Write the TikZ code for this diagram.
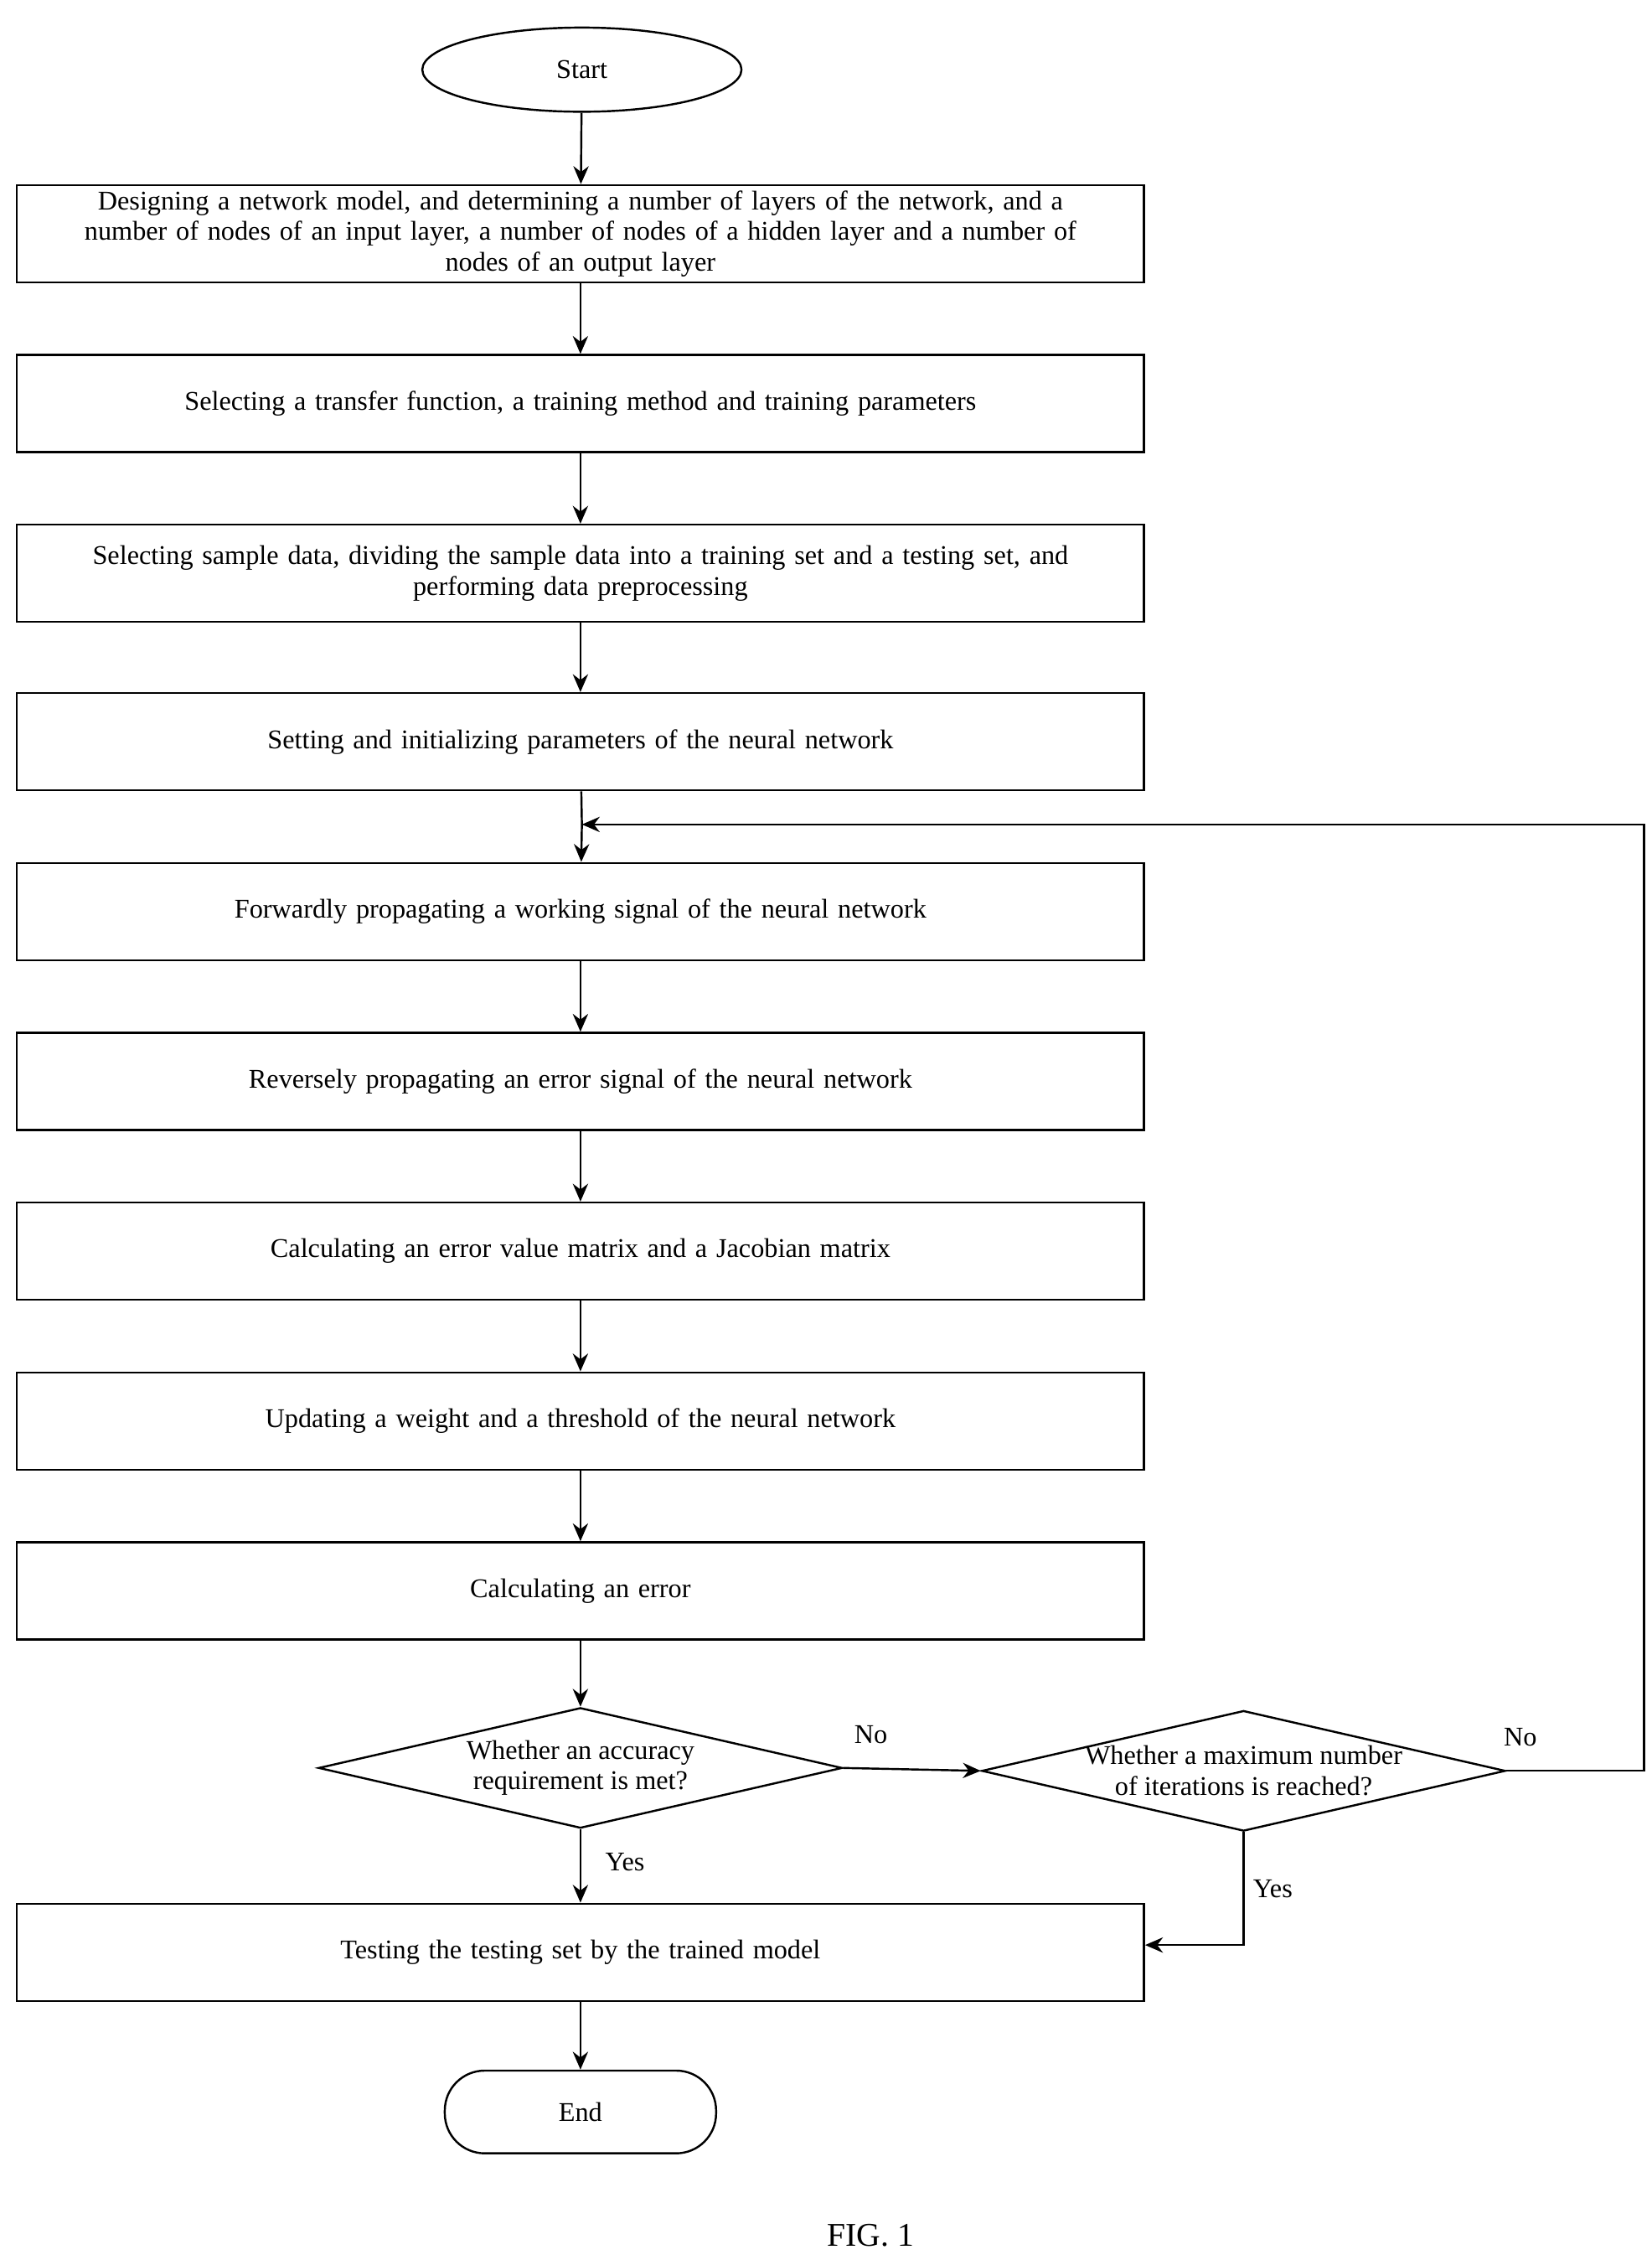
\documentclass[tikz,border=0pt]{standalone}
\usepackage{fontspec}
\setmainfont{Liberation Serif}
\usetikzlibrary{shapes.geometric,arrows.meta}
\begin{document}
\begin{tikzpicture}[x=0.02cm,y=-0.02cm,thick,
  font=\fontsize{10.6pt}{12pt}\selectfont,
  box/.style={draw, minimum width=15.54cm, minimum height=1.34cm, align=center, text width=15.4cm, inner sep=1pt},
  dec/.style={draw, diamond, aspect=4.4, minimum width=7.22cm, minimum height=1.66cm, align=center, inner xsep=-22pt, inner ysep=0pt},
  arr/.style={-{Stealth[length=7pt,width=6pt]}}]
\useasboundingbox (0,0) rectangle (1138,1557);
\tikzstyle{every path} = [line width=0.8pt]
\node[draw, ellipse, minimum width=4.4cm, minimum height=1.16cm] (start) at (401,48) {Start};
\node[box] (b1) at (400,161) {Designing a network model, and determining a number of layers of the network, and a\\number of nodes of an input layer, a number of nodes of a hidden layer and a number of\\nodes of an output layer};
\node[box] (b2) at (400,278) {Selecting a transfer function, a training method and training parameters};
\node[box] (b3) at (400,395) {Selecting sample data, dividing the sample data into a training set and a testing set, and\\performing data preprocessing};
\node[box] (b4) at (400,511) {Setting and initializing parameters of the neural network};
\node[box] (b5) at (400,628) {Forwardly propagating a working signal of the neural network};
\node[box] (b6) at (400,745) {Reversely propagating an error signal of the neural network};
\node[box] (b7) at (400,862) {Calculating an error value matrix and a Jacobian matrix};
\node[box] (b8) at (400,979) {Updating a weight and a threshold of the neural network};
\node[box] (b9) at (400,1096) {Calculating an error};
\node[dec] (d1) at (400,1218) {Whether an accuracy\\requirement is met?};
\node[dec] (d2) at (857,1220) {Whether a maximum number\\of iterations is reached?};
\node[box] (b10) at (400,1345) {Testing the testing set by the trained model};
\node[draw, rounded corners=0.55cm, minimum width=3.74cm, minimum height=1.14cm] (end) at (400,1455) {End};
\node (fig) at (600,1540) {\fontsize{13pt}{15pt}\selectfont FIG. 1};
\coordinate (loop) at (401,568);
\draw[arr] (start) -- (b1);
\draw[arr] (b1) -- (b2);
\draw[arr] (b2) -- (b3);
\draw[arr] (b3) -- (b4);
\draw (b4) -- (loop);
\draw[arr] (loop) -- (b5);
\draw[arr] (b5) -- (b6);
\draw[arr] (b6) -- (b7);
\draw[arr] (b7) -- (b8);
\draw[arr] (b8) -- (b9);
\draw[arr] (b9) -- (d1);
\draw[arr] (d1) -- node[right, pos=0.45, xshift=6pt] {Yes} (b10);
\draw[arr] (b10) -- (end);
\draw[arr] (d1.east) -- node[above, pos=0.2, yshift=6pt] {No} (d2.west);
\draw[arr] (d2.east) -- node[above, pos=0.1, yshift=6pt] {No} (1133,1220) -- (1133,568) -- (loop);
\draw[arr] (d2.south) -- node[right, pos=0.5] {Yes} (857,1340) -- (b10.east |- 857,1340);
\end{tikzpicture}
\end{document}
